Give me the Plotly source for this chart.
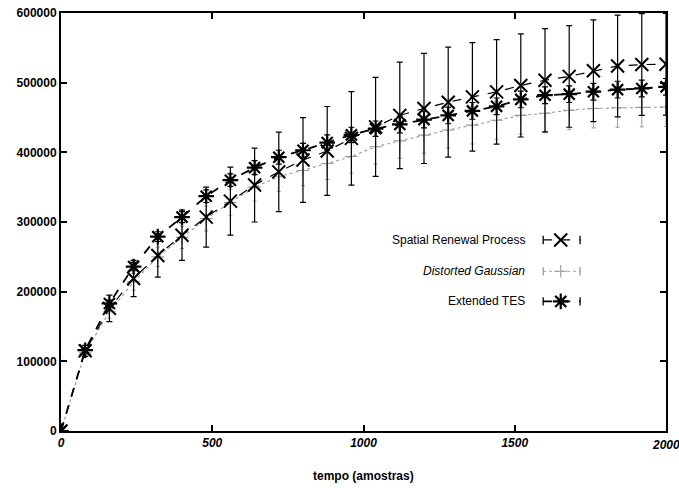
import plotly.graph_objects as go

# --- data ---
tempo = [0, 80, 160, 240, 320, 400, 480, 560, 640, 720, 800, 880, 960, 1040,
         1120, 1200, 1280, 1360, 1440, 1520, 1600, 1680, 1760, 1840, 1920, 2000]

srp = [0, 115000, 176000, 219000, 252000, 281000, 307000, 330000, 353000, 372000,
       389000, 402000, 420000, 436500, 453000, 463000, 472000, 479600, 486800,
       496000, 503500, 509000, 517000, 524000, 526000, 526500]
srp_err = [0, 8000, 19000, 26000, 31000, 36000, 43000, 48800, 53000, 57000,
           60700, 63800, 67000, 71000, 76500, 79000, 79000, 78000, 75000,
           74000, 74000, 73000, 73000, 73000, 73000, 73000]

dg = [0, 113000, 171000, 214000, 250000, 278000, 305000, 328000, 350000, 365000,
      374000, 384000, 394000, 408000, 416500, 424700, 432000, 439000, 446000,
      453000, 456000, 460500, 463000, 464000, 464500, 465000]
dg_err = [0, 4000, 9000, 12000, 14000, 16000, 18000, 19000, 20000, 21000,
          22000, 23000, 24000, 25000, 25000, 26000, 26000, 27000, 27000,
          27000, 28000, 28000, 28000, 28000, 28000, 28000]

etes = [0, 116000, 183000, 236000, 279000, 307000, 337000, 360000, 378000, 393000,
        403000, 414000, 425000, 434000, 440000, 447000, 453000, 459500, 466000,
        476000, 482000, 483500, 487000, 490000, 491700, 494000]
etes_err = [0, 3000, 5000, 6000, 7000, 8000, 9000, 9000, 10000, 10000,
            10000, 11000, 11000, 11000, 12000, 12000, 12000, 12000, 12000,
            12000, 12000, 12000, 12000, 12000, 12000, 12000]

names = ["Spatial Renewal Process", "Distorted Gaussian", "Extended TES"]
y_ticks = [0, 100000, 200000, 300000, 400000, 500000, 600000]
x_ticks = [0, 500, 1000, 1500, 2000]

FONT = "Liberation Sans, Arial, sans-serif"
GRAY = "#9a9a9a"
XTICK_FONT = dict(family=FONT, size=12, style="italic", weight="bold", color="black")

fig = go.Figure()

fig.add_trace(go.Scatter(
    x=tempo, y=dg, mode="lines+markers", name=names[1],
    line=dict(color=GRAY, width=1.1, dash="dot"),
    marker=dict(symbol="cross-thin-open", size=9, color=GRAY, line=dict(width=1.1, color=GRAY)),
    error_y=dict(type="data", array=dg_err, color=GRAY, thickness=1, width=2),
    showlegend=False, cliponaxis=True))

fig.add_trace(go.Scatter(
    x=tempo, y=srp, mode="lines+markers", name=names[0],
    line=dict(color="black", width=1.2, dash="dash"),
    marker=dict(symbol="x-thin-open", size=13, color="black", line=dict(width=2, color="black")),
    error_y=dict(type="data", array=srp_err, color="black", thickness=1.2, width=3),
    showlegend=False, cliponaxis=True))

fig.add_trace(go.Scatter(
    x=tempo, y=etes, mode="lines+markers", name=names[2],
    line=dict(color="black", width=1.8, dash="dash"),
    marker=dict(symbol="asterisk-open", size=13, color="black", line=dict(width=2.2, color="black")),
    error_y=dict(type="data", array=etes_err, color="black", thickness=1.2, width=3),
    showlegend=False, cliponaxis=True))

# --- custom legend (text left, key right, gnuplot style) ---
leg_y = [0.457, 0.382, 0.310]
leg_styles = [
    dict(color="black", width=1.2, dash="dash", sym="x-thin-open", size=13, lw=2),
    dict(color=GRAY, width=1.1, dash="dot", sym="cross-thin-open", size=9, lw=1.1),
    dict(color="black", width=1.8, dash="dash", sym="asterisk-open", size=13, lw=2.2),
]
x0, x1, xm = 0.797, 0.858, 0.826
for nm, yy, st in zip(names, leg_y, leg_styles):
    fig.add_annotation(xref="paper", yref="paper", x=0.770, y=yy, text=nm,
                       showarrow=False, xanchor="right", yanchor="middle",
                       font=dict(family=FONT, size=12, color="black",
                                 style="italic" if nm == "Distorted Gaussian" else "normal"))
    fig.add_trace(go.Scatter(x=[x0, x1], y=[yy, yy], xaxis="x2", yaxis="y2", mode="lines",
                             line=dict(color=st["color"], width=st["width"], dash=st["dash"]),
                             showlegend=False, hoverinfo="skip"))
    fig.add_trace(go.Scatter(x=[xm], y=[yy], xaxis="x2", yaxis="y2", mode="markers",
                             marker=dict(symbol=st["sym"], size=st["size"], color=st["color"],
                                         line=dict(width=st["lw"], color=st["color"])),
                             showlegend=False, hoverinfo="skip"))
    for xe in (x0, x1):
        fig.add_shape(type="line", xref="paper", yref="paper", x0=xe, x1=xe,
                      y0=yy - 0.01, y1=yy + 0.01, line=dict(color=st["color"], width=1.3))

# last x tick label (overflows the right edge, so drawn as annotation)
fig.add_annotation(xref="x", yref="paper", x=x_ticks[-1], y=-0.012, text=str(x_ticks[-1]),
                   showarrow=False, xanchor="center", yanchor="top", font=XTICK_FONT)

fig.add_annotation(xref="paper", yref="paper", x=0.5, y=-0.108, text="tempo (amostras)",
                   showarrow=False, xanchor="center", yanchor="middle",
                   font=dict(family=FONT, size=12, color="black", weight="bold"))

fig.update_layout(
    width=679, height=488,
    margin=dict(l=61, r=13, t=13, b=57),
    plot_bgcolor="white", paper_bgcolor="white",
    font=dict(family=FONT, size=12, color="black"),
    xaxis=dict(range=[0, 2000], tickvals=x_ticks,
               ticktext=[str(v) for v in x_ticks[:-1]] + [""],
               ticks="inside", ticklen=6, tickwidth=1.5, tickcolor="black",
               showline=True, linecolor="black", linewidth=2, mirror="ticks",
               showgrid=False, zeroline=False, automargin=False,
               tickfont=XTICK_FONT),
    yaxis=dict(range=[0, 600000], tickvals=y_ticks, ticktext=[str(v) for v in y_ticks],
               ticks="inside", ticklen=6, tickwidth=1.5, tickcolor="black",
               showline=True, linecolor="black", linewidth=2, mirror="ticks",
               showgrid=False, zeroline=False, automargin=False,
               tickfont=dict(family=FONT, size=12, weight="bold")),
    xaxis2=dict(range=[0, 1], overlaying="x", visible=False, domain=[0, 1], automargin=False),
    yaxis2=dict(range=[0, 1], overlaying="y", visible=False, automargin=False),
)

fig.write_html("out.html")
